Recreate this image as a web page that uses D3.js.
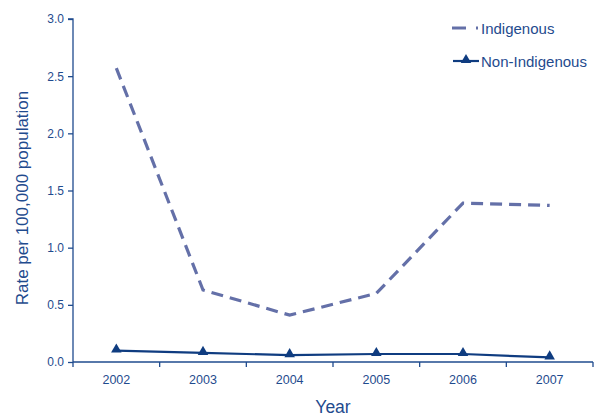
<!DOCTYPE html>
<html><head><meta charset="utf-8">
<script src="https://cdn.jsdelivr.net/npm/d3@7"></script>
<style>body{margin:0;background:#fff;}svg{display:block;font-family:"Liberation Sans",Arial,sans-serif;}</style>
</head><body><svg id="c" width="596" height="416"></svg>
<script>
const years = ["2002","2003","2004","2005","2006","2007"];
const indigenous = [2.57, 0.63, 0.41, 0.60, 1.39, 1.37];
const nonIndigenous = [0.10, 0.08, 0.06, 0.07, 0.07, 0.04];
const yTicks = [0, 0.5, 1.0, 1.5, 2.0, 2.5, 3.0];
const seriesNames = ["Indigenous", "Non-Indigenous"];

const textCol = "#1f4b8e", axisCol = "#1f4b8e";
const indCol = "#6470a8", nonCol = "#0f3c80";
const svg = d3.select("#c");
const m = {l:73, r:4, t:19, b:54};
const x = d3.scaleBand().domain(years).range([m.l, 593]);
const y = d3.scaleLinear().domain([0,3]).range([362, 19]);

// Y axis
const ya = svg.append("g").attr("transform",`translate(${m.l},0)`)
  .call(d3.axisLeft(y).tickValues(yTicks).tickFormat(d3.format(".1f")).tickSize(5).tickPadding(4));
ya.select(".domain").attr("stroke",axisCol).attr("stroke-width",1.3).attr("d",`M-5,${y(3)}H0V${y(0)}`);
ya.selectAll(".tick line").attr("stroke",axisCol).attr("stroke-width",1.3);
ya.selectAll("text").attr("fill",textCol).attr("font-size",12).attr("font-family","Liberation Sans, Arial, sans-serif");

// X axis
const xa = svg.append("g").attr("transform",`translate(0,${y(0)})`)
  .call(d3.axisBottom(x).tickSize(0).tickPadding(13));
xa.select(".domain").attr("stroke",axisCol).attr("stroke-width",1.3).attr("d",`M${m.l},0H593`);
xa.selectAll("text").attr("fill",textCol).attr("font-size",12.5).attr("font-family","Liberation Sans, Arial, sans-serif");
const bounds = years.map(d=>x(d)).concat([x(years[years.length-1])+x.bandwidth()]);
xa.selectAll(".btick").data(bounds).enter().append("line")
  .attr("x1",d=>d).attr("x2",d=>d).attr("y1",0).attr("y2",5)
  .attr("stroke",axisCol).attr("stroke-width",1.3);

// titles
svg.append("text").attr("x",333).attr("y",413).attr("text-anchor","middle")
  .attr("fill",textCol).attr("font-size",17.5).text("Year");
svg.append("text").attr("transform","translate(28,198) rotate(-90)").attr("text-anchor","middle")
  .attr("fill",textCol).attr("font-size",17).text("Rate per 100,000 population");

const cx = d => x(d) + x.bandwidth()/2;
const line = d3.line().x(d=>cx(d.year)).y(d=>y(d.v));
const indData = years.map((d,i)=>({year:d, v:indigenous[i]}));
const nonData = years.map((d,i)=>({year:d, v:nonIndigenous[i]}));

svg.append("path").datum(indData).attr("d",line).attr("fill","none")
  .attr("stroke",indCol).attr("stroke-width",3.2).attr("stroke-dasharray","12,7");
svg.append("path").datum(nonData).attr("d",line).attr("fill","none")
  .attr("stroke",nonCol).attr("stroke-width",2.2);
const tri = d3.symbol().type(d3.symbolTriangle).size(48);
svg.selectAll(".tri").data(nonData).enter().append("path")
  .attr("d",tri).attr("transform",d=>`translate(${cx(d.year)},${y(d.v)-1})`).attr("fill",nonCol);

// legend
const lg = svg.append("g");
lg.append("line").attr("x1",452).attr("x2",466).attr("y1",28).attr("y2",28)
  .attr("stroke",indCol).attr("stroke-width",3);
lg.append("line").attr("x1",476).attr("x2",478).attr("y1",28).attr("y2",28)
  .attr("stroke",indCol).attr("stroke-width",3);
lg.append("text").attr("x",481).attr("y",33.5).attr("fill",textCol).attr("font-size",15).text(seriesNames[0]);
lg.append("line").attr("x1",453).attr("x2",479).attr("y1",61).attr("y2",61)
  .attr("stroke",nonCol).attr("stroke-width",2.2);
lg.append("path").attr("d",tri).attr("transform","translate(466,60)").attr("fill",nonCol);
lg.append("text").attr("x",481).attr("y",66.5).attr("fill",textCol).attr("font-size",15).text(seriesNames[1]);
</script></body></html>
